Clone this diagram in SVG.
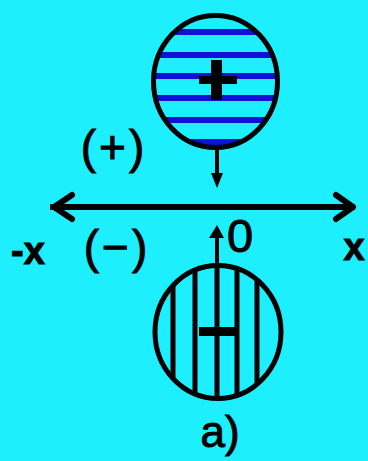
<svg xmlns="http://www.w3.org/2000/svg" width="368" height="461" viewBox="0 0 368 461">
<defs>
<style>
.ln{stroke:#000;stroke-width:5;fill:none}
.bl{stroke:#1010D8;stroke-width:6}
.vl{stroke:#000;stroke-width:5}
.t{font-family:"Liberation Sans",Arial,sans-serif;fill:#000;stroke:#000;stroke-width:1}
</style>
<clipPath id="c1"><ellipse cx="215.5" cy="81.5" rx="62" ry="66"/></clipPath>
<clipPath id="c2"><ellipse cx="218" cy="332" rx="63" ry="66.5"/></clipPath>
</defs>
<rect width="368" height="461" fill="#1EEFFF"/>
<g id="top-circle">
<g clip-path="url(#c1)" class="bl">
<line x1="140" y1="32" x2="290" y2="32"/>
<line x1="140" y1="55" x2="290" y2="55"/>
<line x1="140" y1="76" x2="290" y2="76"/>
<line x1="140" y1="98" x2="290" y2="98"/>
<line x1="140" y1="120" x2="290" y2="120"/>
<line x1="140" y1="142" x2="290" y2="142"/>
</g>
<ellipse class="ln" cx="215.5" cy="81.5" rx="62" ry="66"/>
<rect x="199" y="76" width="38" height="8" fill="#000"/>
<rect x="211" y="60" width="11" height="40" fill="#000"/>
</g>
<g id="bottom-circle">
<g clip-path="url(#c2)" class="vl">
<line x1="173" y1="260" x2="173" y2="405"/>
<line x1="195" y1="260" x2="195" y2="405"/>
<line x1="217" y1="260" x2="217" y2="405"/>
<line x1="237" y1="260" x2="237" y2="405"/>
<line x1="257" y1="260" x2="257" y2="405"/>
</g>
<ellipse class="ln" cx="218" cy="332" rx="63" ry="66.5"/>
<rect x="199" y="327" width="40" height="9" fill="#000"/>
</g>
<g id="connectors">
<line x1="50" y1="207" x2="355" y2="207" stroke="#000" stroke-width="6"/>
<polyline points="72,195 54,207 72,219" fill="none" stroke="#000" stroke-width="6" stroke-linecap="round" stroke-linejoin="round"/>
<polyline points="336,195 353,207 336,219" fill="none" stroke="#000" stroke-width="6" stroke-linecap="round" stroke-linejoin="round"/>
<line x1="217" y1="148" x2="217" y2="176" stroke="#000" stroke-width="4"/>
<polygon points="211,173 223,173 217,188" fill="#000"/>
<line x1="217" y1="236" x2="217" y2="266" stroke="#000" stroke-width="4"/>
<polygon points="209,238 224,238 217,225" fill="#000"/>
</g>
<g id="labels">
<text class="t" x="114" y="163" font-size="46" text-anchor="middle" letter-spacing="3">(+)</text>
<text class="t" x="117" y="263" font-size="46" text-anchor="middle" letter-spacing="3">(−)</text>
<text class="t" x="28" y="264" font-size="38" font-weight="bold" text-anchor="middle">-x</text>
<text class="t" x="354" y="260" font-size="38" font-weight="bold" text-anchor="middle">x</text>
<text class="t" x="240" y="252" font-size="47" text-anchor="middle">0</text>
<text class="t" x="220" y="447" font-size="44" text-anchor="middle">a)</text>
</g>
</svg>
